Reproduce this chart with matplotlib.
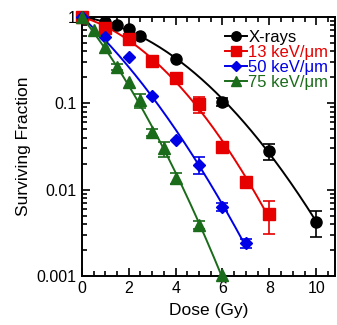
import numpy as np
import matplotlib
matplotlib.use('Agg')
import matplotlib.pyplot as plt
from matplotlib.ticker import FixedLocator, MultipleLocator, NullFormatter

plt.rcParams['font.family'] = ['Liberation Sans', 'DejaVu Sans']

# --------------------------------------------------------------------------
# data

xray_dose = [0, 1, 1.5, 2, 2.5, 4, 6, 8, 10]
xray_sf = [1.0, 0.88, 0.81, 0.72, 0.60, 0.325, 0.104, 0.028, 0.0042]
xray_err = [0, 0, 0, 0, 0, 0, 0.01, 0.006, 0.0014]

let13_dose = [0, 1, 2, 3, 4, 5, 6, 7, 8]
let13_sf = [1.0, 0.74, 0.55, 0.31, 0.197, 0.097, 0.031, 0.0122, 0.0052]
let13_err = [0, 0, 0, 0, 0, 0.02, 0, 0, 0.0021]

let50_dose = [0, 1, 2, 3, 4, 5, 6, 7]
let50_sf = [1.0, 0.59, 0.34, 0.12, 0.038, 0.0195, 0.0063, 0.0024]
let50_err = [0, 0, 0, 0, 0, 0.0045, 0.0006, 0.0003]

let75_dose = [0, 0.5, 1, 1.5, 2, 2.5, 3, 3.5, 4, 5, 6]
let75_sf = [1.0, 0.71, 0.45, 0.265, 0.174, 0.108, 0.046, 0.030, 0.0137, 0.0039, 0.00103]
let75_err = [0, 0, 0, 0.02, 0, 0.02, 0.004, 0.006, 0.002, 0.0004, 0]

labels = ['X-rays', '13 keV/\u03bcm', '50 keV/\u03bcm', '75 keV/\u03bcm']
colors = ['black', '#e60000', '#0000e6', '#1a6b1a']
markers = ['o', 's', 'D', '^']
msizes = [8, 8, 6.5, 8]

series = [
    (xray_dose, xray_sf, xray_err),
    (let13_dose, let13_sf, let13_err),
    (let50_dose, let50_sf, let50_err),
    (let75_dose, let75_sf, let75_err),
]


def lq_fit(dose, sf):
    # ln S = -a D - b D^2, least squares on the plotted points
    d = np.asarray(dose, float)
    A = np.column_stack([-d, -d ** 2])
    coef, *_ = np.linalg.lstsq(A, np.log(sf), rcond=None)
    return coef


fig = plt.figure(figsize=(3.37, 3.25), dpi=100)
ax = fig.add_axes([0.243, 0.151, 0.751, 0.797])

for (dose, sf, err), lab, c, m, ms in zip(series, labels, colors, markers, msizes):
    a, b = lq_fit(dose, sf)
    dd = np.linspace(0, max(dose), 200)
    ax.plot(dd, np.exp(-a * dd - b * dd ** 2), color=c, lw=1.4, zorder=2)
    err = np.asarray(err)
    ax.errorbar(dose, sf, yerr=np.where(err > 0, err, np.nan), fmt='none',
                ecolor=c, elinewidth=1.2, capsize=4, capthick=1.2, zorder=3)
    ax.plot(dose, sf, ls='none', marker=m, color=c, ms=ms, zorder=4, clip_on=False)
    ax.plot([], [], color=c, lw=1.4, marker=m, ms=ms * 0.85, label=lab)

ax.set_yscale('log')
ax.set_xlim(0, 10.8)
ax.set_ylim(0.001, 1)

ax.xaxis.set_major_locator(MultipleLocator(2))
ax.xaxis.set_minor_locator(MultipleLocator(0.5))
ax.yaxis.set_major_locator(FixedLocator([0.001, 0.01, 0.1, 1]))
ax.set_yticklabels(['0.001', '0.01', '0.1', '1'])
ax.yaxis.set_minor_formatter(NullFormatter())

ax.tick_params(which='both', direction='in', top=True, right=True,
               labelsize=11.5, width=1.2, pad=4)
ax.tick_params(which='major', length=6)
ax.tick_params(which='minor', length=3.5)
for sp in ax.spines.values():
    sp.set_linewidth(1.4)

ax.set_xlabel('Dose (Gy)', fontsize=12.5, labelpad=5)
ax.set_ylabel('Surviving Fraction', fontsize=12.5, labelpad=4)

leg = ax.legend(loc='upper right', bbox_to_anchor=(1.0, 0.975), frameon=False,
                fontsize=12, handlelength=1.3, handletextpad=0.1,
                labelspacing=0.0, borderaxespad=0.0)
for txt, c in zip(leg.get_texts(), colors):
    txt.set_color(c)

fig.savefig('out.png', dpi=100)
